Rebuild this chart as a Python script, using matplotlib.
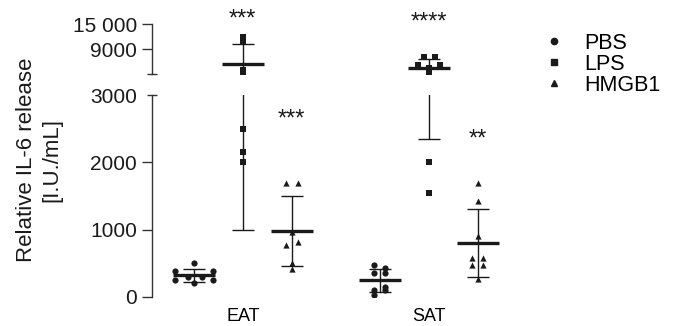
import matplotlib.pyplot as plt
from matplotlib.lines import Line2D
import numpy as np

plt.rcParams['font.family'] = ['Liberation Sans', 'DejaVu Sans']

# values (I.U./mL)
eat_pbs = [500, 385, 380, 300, 290, 255, 250, 215]
eat_lps = [12000, 10800, 4000, 2500, 2150, 2000]
eat_hmgb1 = [1690, 1690, 970, 820, 770, 510, 415]
sat_pbs = [475, 425, 350, 350, 150, 100, 100, 30]
sat_lps = [7200, 7200, 5200, 5200, 4600, 3100, 2000, 1550]
sat_hmgb1 = [1690, 1420, 905, 575, 575, 475, 475, 265]

# horizontal scatter of the points inside a column
eat_pbs_dx = [0, -0.39, 0.39, -0.12, 0.16, -0.39, 0.39, 0]
eat_lps_dx = [0, 0, 0, 0, 0, 0]
eat_hmgb1_dx = [-0.12, 0.12, 0, 0.12, -0.12, 0, 0]
sat_pbs_dx = [-0.12, 0.1, -0.12, 0.1, 0.1, -0.12, 0.1, -0.12]
sat_lps_dx = [-0.1, 0.12, -0.22, 0.22, 0, 0, 0, 0]
sat_hmgb1_dx = [0, 0, 0, -0.12, 0.1, -0.12, 0.1, 0]

groups = ['EAT', 'SAT']
treatments = ['PBS', 'LPS', 'HMGB1']
markers = ['o', 's', '^']
sizes = [20, 16, 20]
positions = [0, 1, 2, 3.8, 4.8, 5.8]
stars = ['', '***', '***', '', '****', '**']
star_y = [None, 14800, 2545, None, 14000, 2245]

series = [eat_pbs, eat_lps, eat_hmgb1, sat_pbs, sat_lps, sat_hmgb1]
offsets = [eat_pbs_dx, eat_lps_dx, eat_hmgb1_dx, sat_pbs_dx, sat_lps_dx, sat_hmgb1_dx]

W, H = 675, 326
fig = plt.figure(figsize=(6.75, 3.26), dpi=100)
left = 151.7 / W
width = 365.5 / W
ax_lo = fig.add_axes([left, (H - 297) / H, width, (297 - 95) / H])
ax_hi = fig.add_axes([left, (H - 74.3) / H, width, (74.3 - 24.3) / H])

ink = '#1a1a1a'
spine_c = '#333333'

for i, (vals, dx) in enumerate(zip(series, offsets)):
    x = positions[i]
    m = markers[i % 3]
    vals = np.array(vals, dtype=float)
    mean = vals.mean()
    sd = vals.std(ddof=1)
    for ax in (ax_lo, ax_hi):
        ax.scatter(x + np.array(dx), vals, marker=m, s=sizes[i % 3],
                   color=ink, linewidths=0, zorder=3)
        ax.hlines(mean, x - 0.43, x + 0.43, color=ink, lw=2.4, zorder=2)
        ax.vlines(x, mean - sd, mean + sd, color=ink, lw=1.0, zorder=2)
        ax.hlines([mean - sd, mean + sd], x - 0.22, x + 0.22, color=ink, lw=1.0, zorder=2)
    if stars[i]:
        ax = ax_hi if star_y[i] > 3000 else ax_lo
        ax.text(x, star_y[i], stars[i], ha='center', va='baseline',
                fontsize=17, color=ink, clip_on=False)

for ax in (ax_lo, ax_hi):
    ax.set_xlim(-0.86, 6.6)
    for s in ('top', 'right', 'bottom'):
        ax.spines[s].set_visible(False)
    ax.spines['left'].set_color(spine_c)
    ax.spines['left'].set_linewidth(1.0)
    ax.tick_params(axis='y', length=7.5, width=1.0, color=spine_c,
                   labelsize=15, pad=3, labelcolor='#1a1a1a')

ax_lo.set_ylim(0, 3000)
ax_lo.set_yticks([0, 1000, 2000, 3000])
ax_lo.set_xticks([1, 4.8])
ax_lo.set_xticklabels(groups)
ax_lo.tick_params(axis='x', length=0, labelsize=13, pad=8)

ax_hi.set_ylim(3000, 15000)
ax_hi.set_yticks([3000, 9000, 15000])
ax_hi.set_yticklabels(['', '9000', '15 000'])
ax_hi.set_xticks([])

# axis break marks: short lines across the spine
ax_lo.yaxis.get_major_ticks()[-1].tick1line.set_marker('_')
ax_hi.yaxis.get_major_ticks()[0].tick1line.set_marker('_')

fig.text(39 / W, 1 - 160 / H, 'Relative IL-6 release\n[I.U./mL]', rotation=90,
         ha='center', va='center', multialignment='center', fontsize=16,
         linespacing=1.25, color=ink)

handles = [Line2D([], [], marker=m, linestyle='none', color=ink, markersize=4.5)
           for m in markers]
fig.legend(handles, treatments, loc='upper left', bbox_to_anchor=(543 / W, 1 - 33 / H),
           frameon=False, fontsize=15.5, labelspacing=0.0, handlelength=1.0,
           handletextpad=0.9, borderpad=0, borderaxespad=0)

fig.savefig('out.png', dpi=100)
